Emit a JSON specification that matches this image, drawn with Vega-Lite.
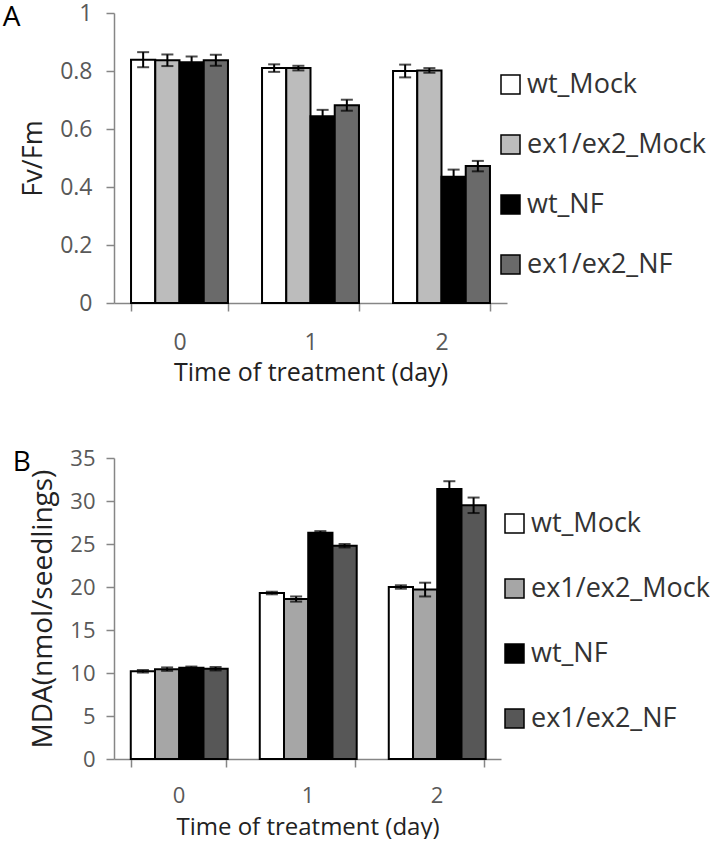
{
  "$schema": "https://vega.github.io/schema/vega-lite/v6.json",
  "padding": {"left": 2, "top": 2, "right": 0, "bottom": 0},
  "spacing": 62,
  "config": {
    "font": "Open Sans",
    "view": {"stroke": null},
    "axis": {
      "domainColor": "#868686", "domainWidth": 1.5,
      "tickColor": "#868686", "tickWidth": 1.5, "tickSize": 8,
      "labelColor": "#595959", "labelFontSize": 22, "labelFont": "Open Sans",
      "titleColor": "#222222", "titleFontSize": 25, "titleFont": "Open Sans", "titleFontWeight": "normal",
      "grid": false
    },
    "legend": {
      "title": null, "orient": "none",
      "symbolType": "square", "symbolSize": 361, "symbolStrokeColor": "black", "symbolStrokeWidth": 1.5,
      "labelFontSize": 27, "labelFont": "Open Sans", "labelColor": "#333333", "labelOffset": 3, "labelLimit": 300
    },
    "title": {"fontSize": 28, "fontWeight": "normal", "font": "Open Sans", "color": "black"}
  },
  "vconcat": [
    {
      "title": {"text": "A", "anchor": "start", "frame": "bounds", "dx": -17, "dy": 34},
      "width": 393, "height": 290,
      "data": {"values": [
        {"day": "0", "group": "wt_Mock", "value": 0.839, "lo": 0.813, "hi": 0.865},
        {"day": "0", "group": "ex1/ex2_Mock", "value": 0.837, "lo": 0.817, "hi": 0.857},
        {"day": "0", "group": "wt_NF", "value": 0.83, "lo": 0.81, "hi": 0.85},
        {"day": "0", "group": "ex1/ex2_NF", "value": 0.837, "lo": 0.818, "hi": 0.856},
        {"day": "1", "group": "wt_Mock", "value": 0.81, "lo": 0.797, "hi": 0.823},
        {"day": "1", "group": "ex1/ex2_Mock", "value": 0.81, "lo": 0.802, "hi": 0.818},
        {"day": "1", "group": "wt_NF", "value": 0.644, "lo": 0.622, "hi": 0.666},
        {"day": "1", "group": "ex1/ex2_NF", "value": 0.682, "lo": 0.663, "hi": 0.701},
        {"day": "2", "group": "wt_Mock", "value": 0.8, "lo": 0.778, "hi": 0.822},
        {"day": "2", "group": "ex1/ex2_Mock", "value": 0.802, "lo": 0.794, "hi": 0.81},
        {"day": "2", "group": "wt_NF", "value": 0.435, "lo": 0.41, "hi": 0.46},
        {"day": "2", "group": "ex1/ex2_NF", "value": 0.472, "lo": 0.454, "hi": 0.49}
      ]},
      "encoding": {
        "x": {"field": "day", "type": "nominal", "title": "Time of treatment (day)",
              "scale": {"paddingInner": 0.26, "paddingOuter": 0.13},
              "axis": {"labelAngle": 0, "tickBand": "extent", "labelPadding": 20, "titlePadding": 6, "labelFontSize": 23}},
        "xOffset": {"field": "group", "type": "nominal",
                    "scale": {"domain": ["wt_Mock", "ex1/ex2_Mock", "wt_NF", "ex1/ex2_NF"], "paddingInner": 0, "paddingOuter": 0}}
      },
      "layer": [
        {
          "mark": {"type": "bar", "stroke": "black", "strokeWidth": 2},
          "encoding": {
            "y": {"field": "value", "type": "quantitative", "title": "Fv/Fm",
                  "scale": {"domain": [0, 1]},
                  "axis": {"values": [0, 0.2, 0.4, 0.6, 0.8, 1], "format": "~g", "labelPadding": 14, "titlePadding": 12, "labelFontSize": 23, "titleFontSize": 27}},
            "color": {"field": "group", "type": "nominal",
                      "scale": {"domain": ["wt_Mock", "ex1/ex2_Mock", "wt_NF", "ex1/ex2_NF"],
                                "range": ["#ffffff", "#bcbcbc", "#000000", "#6a6a6a"]},
                      "legend": {"legendX": 383, "legendY": 58, "rowPadding": 32}}
          }
        },
        {
          "mark": {"type": "rule", "strokeWidth": 2, "color": "black"},
          "encoding": {
            "y": {"field": "lo", "type": "quantitative", "title": "Fv/Fm"},
            "y2": {"field": "hi"}
          }
        },
        {
          "mark": {"type": "tick", "orient": "horizontal", "size": 12, "thickness": 2, "color": "black"},
          "encoding": {"y": {"field": "lo", "type": "quantitative", "title": "Fv/Fm"}}
        },
        {
          "mark": {"type": "tick", "orient": "horizontal", "size": 12, "thickness": 2, "color": "black"},
          "encoding": {"y": {"field": "hi", "type": "quantitative", "title": "Fv/Fm"}}
        }
      ]
    },
    {
      "title": {"text": "B", "anchor": "start", "frame": "bounds", "dx": -17, "dy": 34},
      "width": 387, "height": 301,
      "data": {"values": [
        {"day": "0", "group": "wt_Mock", "value": 10.2, "lo": 10.05, "hi": 10.35},
        {"day": "0", "group": "ex1/ex2_Mock", "value": 10.45, "lo": 10.25, "hi": 10.65},
        {"day": "0", "group": "wt_NF", "value": 10.6, "lo": 10.45, "hi": 10.75},
        {"day": "0", "group": "ex1/ex2_NF", "value": 10.5, "lo": 10.3, "hi": 10.7},
        {"day": "1", "group": "wt_Mock", "value": 19.3, "lo": 19.15, "hi": 19.45},
        {"day": "1", "group": "ex1/ex2_Mock", "value": 18.6, "lo": 18.3, "hi": 18.9},
        {"day": "1", "group": "wt_NF", "value": 26.3, "lo": 26.1, "hi": 26.5},
        {"day": "1", "group": "ex1/ex2_NF", "value": 24.8, "lo": 24.6, "hi": 25.0},
        {"day": "2", "group": "wt_Mock", "value": 20.0, "lo": 19.8, "hi": 20.2},
        {"day": "2", "group": "ex1/ex2_Mock", "value": 19.7, "lo": 18.9, "hi": 20.5},
        {"day": "2", "group": "wt_NF", "value": 31.4, "lo": 30.5, "hi": 32.3},
        {"day": "2", "group": "ex1/ex2_NF", "value": 29.5, "lo": 28.6, "hi": 30.4}
      ]},
      "encoding": {
        "x": {"field": "day", "type": "nominal", "title": "Time of treatment (day)",
              "scale": {"paddingInner": 0.26, "paddingOuter": 0.13},
              "axis": {"labelAngle": 0, "tickBand": "extent", "labelPadding": 18, "titlePadding": 9, "titleFontSize": 24}},
        "xOffset": {"field": "group", "type": "nominal",
                    "scale": {"domain": ["wt_Mock", "ex1/ex2_Mock", "wt_NF", "ex1/ex2_NF"], "paddingInner": 0, "paddingOuter": 0}}
      },
      "layer": [
        {
          "mark": {"type": "bar", "stroke": "black", "strokeWidth": 2},
          "encoding": {
            "y": {"field": "value", "type": "quantitative", "title": "MDA(nmol/seedlings)",
                  "scale": {"domain": [0, 35]},
                  "axis": {"values": [0, 5, 10, 15, 20, 25, 30, 35], "labelPadding": 11, "titlePadding": 12, "titleFontSize": 28}},
            "color": {"field": "group", "type": "nominal",
                      "scale": {"domain": ["wt_Mock", "ex1/ex2_Mock", "wt_NF", "ex1/ex2_NF"],
                                "range": ["#ffffff", "#a6a6a6", "#000000", "#575757"]},
                      "legend": {"legendX": 387, "legendY": 52, "rowPadding": 37}}
          }
        },
        {
          "mark": {"type": "rule", "strokeWidth": 2, "color": "black"},
          "encoding": {
            "y": {"field": "lo", "type": "quantitative", "title": "MDA(nmol/seedlings)"},
            "y2": {"field": "hi"}
          }
        },
        {
          "mark": {"type": "tick", "orient": "horizontal", "size": 12, "thickness": 2, "color": "black"},
          "encoding": {"y": {"field": "lo", "type": "quantitative", "title": "MDA(nmol/seedlings)"}}
        },
        {
          "mark": {"type": "tick", "orient": "horizontal", "size": 12, "thickness": 2, "color": "black"},
          "encoding": {"y": {"field": "hi", "type": "quantitative", "title": "MDA(nmol/seedlings)"}}
        }
      ]
    }
  ],
  "resolve": {"scale": {"color": "independent"}}
}
